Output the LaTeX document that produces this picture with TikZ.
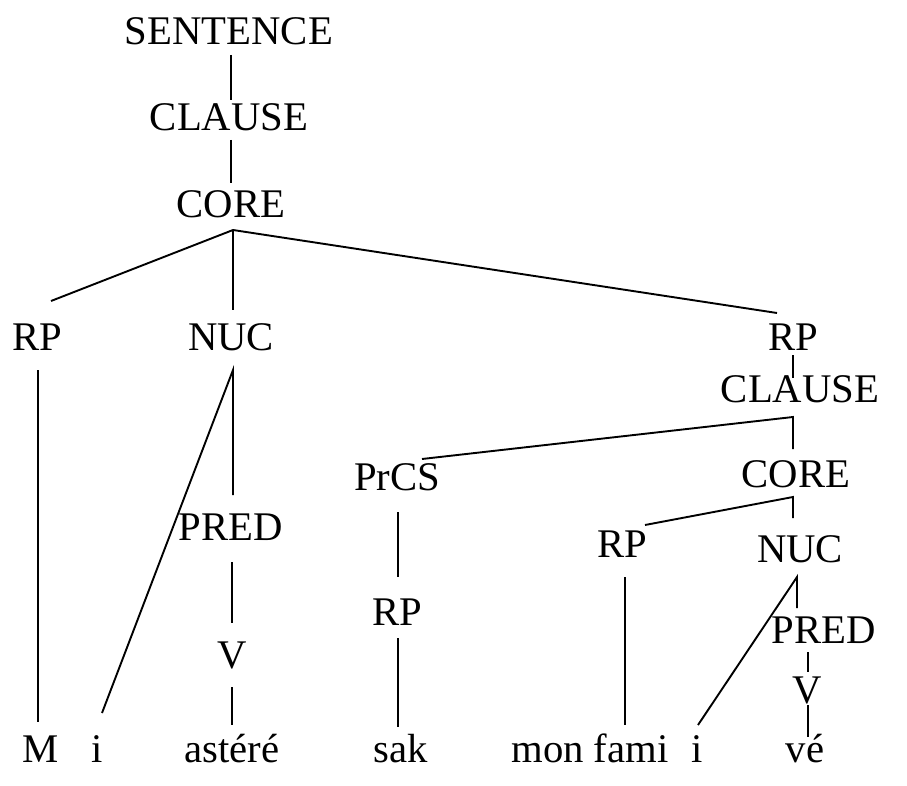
\documentclass[tikz,border=0pt]{standalone}
\usepackage{fontspec}
\setmainfont{Liberation Serif}
\usetikzlibrary{calc}
\tikzset{
  lbl/.style={anchor=base, inner sep=0pt, font=\fontsize{40.7}{48}\selectfont},
  branch/.style={line width=1.9pt, line cap=butt}
}
\begin{document}
\begin{tikzpicture}[x=1pt, y=-1pt]
\useasboundingbox[fill=white] (0,0) rectangle (907,786);

% category labels
\node[lbl] (sent)  at (229,45)  {SENTENCE};
\node[lbl] (cl1)   at (229,131) {CLAUSE};
\node[lbl] (core1) at (231,218) {CORE};
\node[lbl] (rp1)   at (37,350)  {RP};
\node[lbl] (nuc1)  at (231,350) {NUC};
\node[lbl] (rp2)   at (793,350) {RP};
\node[lbl] (cl2)   at (800,402) {CLAUSE};
\node[lbl] (prcs)  at (397,490) {PrCS};
\node[lbl] (core2) at (796,487) {CORE};
\node[lbl] (pred1) at (231,540) {PRED};
\node[lbl] (rp3)   at (622,557) {RP};
\node[lbl] (nuc2)  at (800,562) {NUC};
\node[lbl] (rp4)   at (397,625) {RP};
\node[lbl] (pred2) at (824,643) {PRED};
\node[lbl] (v1)    at (232,668) {V};
\node[lbl] (v2)    at (807,703) {V};

% words
\node[lbl] (wM)   at (41,762)  {M};
\node[lbl] (wi1)  at (97,762)  {i};
\node[lbl] (wast) at (232,762) {astéré};
\node[lbl] (wsak) at (401,762) {sak};
\node[lbl] (wmf)  at (590,762) {mon fami};
\node[lbl] (wi2)  at (697,762) {i};
\node[lbl] (wve)  at (805,762) {vé};

% branches
\draw[branch] ($(sent.base)+(2,10)$) -- ($(cl1.base)+(2,-31)$);
\draw[branch] ($(cl1.base)+(2,9)$) -- ($(core1.base)+(0,-35)$);

\draw[branch] ($(rp1.base)+(14,-49)$) -- ($(core1.base)+(2,12)$) -- ($(rp2.base)+(-16,-37)$);
\draw[branch] ($(core1.base)+(2,12)$) -- ($(nuc1.base)+(2,-40)$);

\draw[branch] ($(rp1.base)+(1,20)$) -- ($(wM.base)+(-3,-40)$);
\draw[branch] ($(wi1.base)+(5,-49)$) -- ($(nuc1.base)+(2,20)$) -- ($(pred1.base)+(2,-45)$);
\draw[branch] ($(pred1.base)+(1,22)$) -- ($(v1.base)+(0,-45)$);
\draw[branch] ($(v1.base)+(0,19)$) -- ($(wast.base)+(0,-37)$);

\draw[branch] ($(rp2.base)+(0,5)$) -- ($(cl2.base)+(-7,-24)$);
\draw[branch] ($(prcs.base)+(25,-31)$) -- ($(cl2.base)+(-7,15)$) -- ($(core2.base)+(-3,-38)$);
\draw[branch] ($(prcs.base)+(1,22)$) -- ($(rp4.base)+(1,-48)$);
\draw[branch] ($(rp4.base)+(1,13)$) -- ($(wsak.base)+(-3,-35)$);

\draw[branch] ($(rp3.base)+(23,-32)$) -- ($(core2.base)+(-3,10)$) -- ($(nuc2.base)+(-7,-44)$);
\draw[branch] ($(rp3.base)+(3,20)$) -- ($(wmf.base)+(35,-37)$);

\draw[branch] ($(wi2.base)+(1,-37)$) -- ($(nuc2.base)+(-3,15)$) -- ($(pred2.base)+(-27,-35)$);
\draw[branch] ($(pred2.base)+(-16,9)$) -- ($(v2.base)+(1,-31)$);
\draw[branch] ($(v2.base)+(1,2)$) -- ($(wve.base)+(3,-25)$);
\end{tikzpicture}
\end{document}
